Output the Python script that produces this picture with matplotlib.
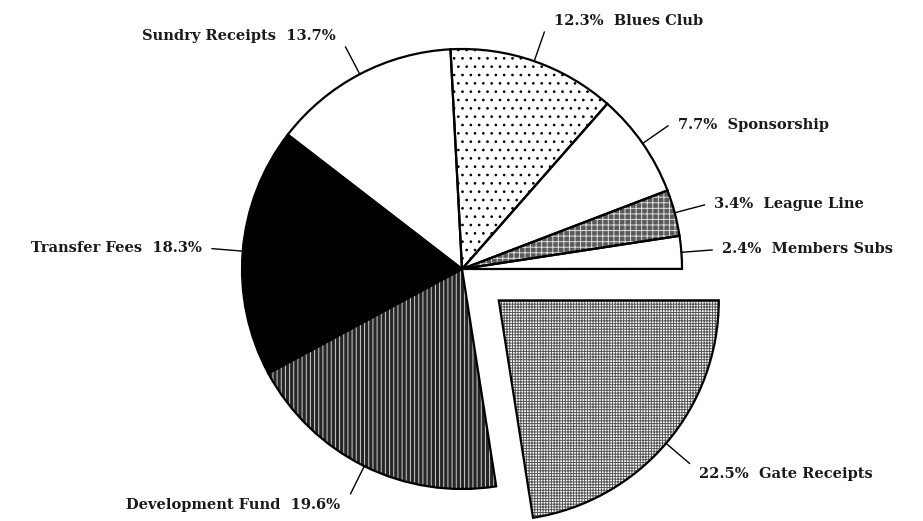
import numpy as np
import matplotlib.pyplot as plt
from matplotlib.patches import Wedge

# income breakdown, clockwise from the top
names = ['Blues Club', 'Sponsorship', 'League Line', 'Members Subs',
         'Gate Receipts', 'Development Fund', 'Transfer Fees', 'Sundry Receipts']
shares = [12.3, 7.7, 3.4, 2.4, 22.5, 19.6, 18.3, 13.7]
explode = [0, 0, 0, 0, 0.22, 0, 0, 0]

# face colour, hatch, hatch colour for each slice
faces = ['white', 'white', '#5a5a5a', 'white', 'white', '#262626', 'black', 'white']
hatches = ['..', None, '+++', None, '++++++', '||||', None, None]
hatch_cols = ['black', None, '#dddddd', None, '#555555', '#d0d0d0', None, None]

plt.rcParams['hatch.linewidth'] = 0.7
plt.rcParams['font.family'] = 'DejaVu Serif'

fig = plt.figure(figsize=(9.23, 5.21), dpi=100)
ax = fig.add_axes([0, 0, 1, 1])

wedges, _ = ax.pie(shares, explode=explode, startangle=93, counterclock=False,
                   colors=faces, wedgeprops=dict(linewidth=0, edgecolor='none'))

for w, h, hc in zip(wedges, hatches, hatch_cols):
    if h:
        ax.add_patch(Wedge(w.center, w.r, w.theta1, w.theta2, facecolor='none',
                           edgecolor=hc, hatch=h, linewidth=0, zorder=2))
    ax.add_patch(Wedge(w.center, w.r, w.theta1, w.theta2, facecolor='none',
                       edgecolor='black', linewidth=1.6, zorder=3))

# leader lines and labels
for w, name, pct in zip(wedges, names, shares):
    mid = np.deg2rad((w.theta1 + w.theta2) / 2)
    cx, cy = w.center
    c, s = np.cos(mid), np.sin(mid)
    x0, y0 = cx + w.r * c, cy + w.r * s
    x1, y1 = cx + 1.14 * w.r * c, cy + 1.14 * w.r * s
    ax.plot([x0, x1], [y0, y1], color='black', lw=1.0, zorder=4)
    if c >= 0:
        txt = f'{pct}%  {name}'
        ha, dx = 'left', 10
    else:
        txt = f'{name}  {pct}%'
        ha, dx = 'right', -10
    if s > 0.85:
        va, dy = 'bottom', 4
    elif s < -0.6:
        va, dy = 'top', -4
    else:
        va, dy = 'center', 1
    ax.annotate(txt, (x1, y1), xytext=(dx, dy), textcoords='offset pixels',
                ha=ha, va=va, fontsize=10.5, fontweight='bold', color='#1a1a1a')

ax.set_aspect('auto')
ax.set_xlim(-462 / 220, 461 / 220)
ax.set_ylim(-(521 - 269) / 220, 269 / 220)
ax.axis('off')

fig.savefig('out.png', dpi=100)
